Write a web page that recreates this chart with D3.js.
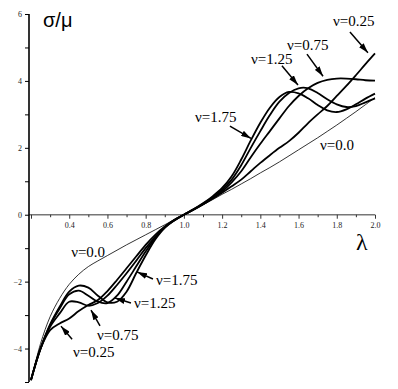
<!DOCTYPE html>
<meta charset="utf-8">
<style>
    body { margin: 0; background: #fff; }
    svg { display: block; }
    .tick text { font-family: "Liberation Serif", "Times New Roman", serif; font-size: 8px; fill: #222; }
    .note { font-family: "Liberation Serif", "Times New Roman", serif; font-size: 15px; }
</style>
<body>
<script src="https://cdn.jsdelivr.net/npm/d3@7"></script>
<script>
    // stretch values (shared by every curve)
    const lambdas = [0.20, 0.25, 0.30, 0.35, 0.40, 0.45, 0.50, 0.55, 0.60, 0.65,
        0.70, 0.75, 0.80, 0.85, 0.90, 0.95, 1.00, 1.05, 1.10, 1.15,
        1.20, 1.25, 1.30, 1.35, 1.40, 1.45, 1.50, 1.55, 1.60, 1.65,
        1.70, 1.75, 1.80, 1.85, 1.90, 1.95, 2.00];

    // sigma/mu
    const nu00 = [-4.96, -3.85, -3.05, -2.5, -2.08, -1.78, -1.55, -1.38, -1.22, -1.06,
        -0.9, -0.75, -0.6, -0.45, -0.30, -0.15, 0, 0.15, 0.30, 0.45,
        0.61, 0.76, 0.92, 1.08, 1.25, 1.41, 1.58, 1.76, 1.94, 2.12,
        2.30, 2.49, 2.68, 2.88, 3.08, 3.29, 3.50];
    const nu025 = [-4.94, -4.0, -3.45, -3.25, -3.1, -2.88, -2.7, -2.55, -2.28, -1.95,
        -1.6, -1.25, -0.9, -0.6, -0.35, -0.15, 0, 0.15, 0.31, 0.48,
        0.66, 0.85, 1.05, 1.3, 1.55, 1.78, 2.0, 2.2, 2.45, 2.74,
        3.0, 3.25, 3.55, 3.85, 4.17, 4.5, 4.82];
    const nu075 = [-4.94, -4.0, -3.35, -2.95, -2.6, -2.62, -2.72, -2.64, -2.42, -2.1,
        -1.75, -1.38, -1.0, -0.66, -0.37, -0.16, 0, 0.15, 0.31, 0.5,
        0.7, 0.97, 1.3, 1.72, 2.12, 2.5, 2.88, 3.25, 3.55, 3.78,
        3.94, 4.03, 4.07, 4.07, 4.05, 4.02, 4.01];
    const nu125 = [-4.94, -4.0, -3.3, -2.8, -2.38, -2.27, -2.42, -2.6, -2.64, -2.42,
        -2.0, -1.55, -1.1, -0.7, -0.38, -0.17, 0, 0.16, 0.33, 0.52,
        0.75, 1.05, 1.48, 2.0, 2.5, 2.98, 3.38, 3.64, 3.78, 3.78,
        3.64, 3.45, 3.3, 3.22, 3.25, 3.36, 3.48];
    const nu175 = [-4.94, -4.0, -3.28, -2.75, -2.3, -2.12, -2.18, -2.42, -2.62, -2.6,
        -2.3, -1.75, -1.22, -0.74, -0.39, -0.17, 0, 0.16, 0.34, 0.55,
        0.8, 1.15, 1.65, 2.22, 2.75, 3.2, 3.52, 3.67, 3.63, 3.48,
        3.28, 3.12, 3.07, 3.15, 3.3, 3.47, 3.62];

    const xMajor = [0.2, 0.4, 0.6, 0.8, 1.0, 1.2, 1.4, 1.6, 1.8, 2.0];
    const xMinor = [0.3, 0.5, 0.7, 0.9, 1.1, 1.3, 1.5, 1.7, 1.9];
    const yMajor = [-4, -2, 0, 2, 4, 6];
    const yMinor = [-5, -3, -1, 1, 3, 5];

    // annotations: label text, label anchor, arrow tail, arrow tip (data units)
    const notes = [
        {t: "ν=0.25", at: [1.780, 5.64], from: [1.869, 5.46], to: [1.963, 4.84]},
        {t: "ν=0.75", at: [1.540, 4.92], from: [1.644, 4.80], to: [1.728, 4.14]},
        {t: "ν=1.25", at: [1.351, 4.51], from: [1.513, 4.45], to: [1.597, 3.88]},
        {t: "ν=1.75", at: [1.058, 2.77], from: [1.241, 2.65], to: [1.351, 2.28]},
        {t: "ν=0.0", at: [1.712, 1.93]},
        {t: "ν=0.0", at: [0.410, -1.25]},
        {t: "ν=1.75", at: [0.854, -2.10], from: [0.838, -1.92], to: [0.755, -1.71]},
        {t: "ν=1.25", at: [0.739, -2.79], from: [0.723, -2.64], to: [0.640, -2.49]},
        {t: "ν=0.75", at: [0.545, -3.74], from: [0.561, -3.32], to: [0.514, -2.85]},
        {t: "ν=0.25", at: [0.420, -4.25], from: [0.415, -3.72], to: [0.357, -3.33]}
    ];

    const width = 398, height = 389;

    const x = d3.scaleLinear().domain([0.2, 2.0]).range([31, 375]);
    const y = d3.scaleLinear().domain([-5, 6]).range([382, 14]);

    const svg = d3.select('body').append('svg')
        .attr('width', width)
        .attr('height', height);

    svg.append('defs').append('marker')
        .attr('id', 'head')
        .attr('markerUnits', 'userSpaceOnUse')
        .attr('viewBox', '0 0 10 6')
        .attr('refX', 10).attr('refY', 3)
        .attr('markerWidth', 10).attr('markerHeight', 6)
        .attr('orient', 'auto')
        .append('path')
        .attr('d', 'M0,0L10,3L0,6Z')
        .attr('fill', '#000');

    // x axis (at sigma = 0)
    const xg = svg.append('g').attr('transform', 'translate(0,' + y(0) + ')');
    xg.append('line')
        .attr('x1', 29).attr('x2', x(2.0))
        .attr('stroke', '#777').attr('stroke-width', 1.5);
    xg.append('g')
        .call(d3.axisBottom(x).tickValues(xMajor).tickSize(4).tickPadding(4)
            .tickFormat(d => d === 0.2 ? '' : d.toFixed(1)))
        .call(g => g.select('.domain').remove())
        .call(g => g.selectAll('.tick line').attr('stroke', '#333'));
    xg.append('g')
        .call(d3.axisBottom(x).tickValues(xMinor).tickSize(2.5).tickFormat(''))
        .call(g => g.select('.domain').remove())
        .call(g => g.selectAll('.tick line').attr('stroke', '#333'));

    // y axis
    const yg = svg.append('g').attr('transform', 'translate(29,0)');
    yg.append('g')
        .call(d3.axisLeft(y).tickValues(yMajor).tickSize(4).tickPadding(3))
        .call(g => g.select('.domain').remove());
    yg.append('g')
        .call(d3.axisLeft(y).tickValues(yMinor).tickSize(4).tickFormat(''))
        .call(g => g.select('.domain').remove());
    yg.append('line')
        .attr('y1', y(6)).attr('y2', y(-5))
        .attr('stroke', '#000').attr('stroke-width', 1.6);

    // curves
    const line = d3.line()
        .x((d, i) => x(lambdas[i]))
        .y(d => y(d))
        .curve(d3.curveCatmullRom.alpha(0.5));

    svg.append('path')
        .attr('d', line(nu00))
        .attr('fill', 'none').attr('stroke', '#000').attr('stroke-width', 0.8);

    svg.selectAll('path.thick')
        .data([nu025, nu075, nu125, nu175])
        .enter().append('path')
        .attr('class', 'thick')
        .attr('d', line)
        .attr('fill', 'none')
        .attr('stroke', '#000')
        .attr('stroke-width', 1.8);

    // labels and arrows
    notes.forEach(n => {
        svg.append('text')
            .attr('class', 'note')
            .attr('x', x(n.at[0])).attr('y', y(n.at[1]))
            .text(n.t);
        if (n.from) {
            svg.append('line')
                .attr('x1', x(n.from[0])).attr('y1', y(n.from[1]))
                .attr('x2', x(n.to[0])).attr('y2', y(n.to[1]))
                .attr('stroke', '#000').attr('stroke-width', 1.5)
                .attr('marker-end', 'url(#head)');
        }
    });

    // axis titles
    svg.append('text')
        .attr('x', 43).attr('y', 27)
        .style('font-family', '"Liberation Sans", Arial, sans-serif')
        .style('font-size', '20px')
        .text('σ/μ');
    svg.append('text')
        .attr('x', 356).attr('y', 250)
        .style('font-family', '"Liberation Serif", "Times New Roman", serif')
        .style('font-size', '24px')
        .text('λ');
</script>
</body>
